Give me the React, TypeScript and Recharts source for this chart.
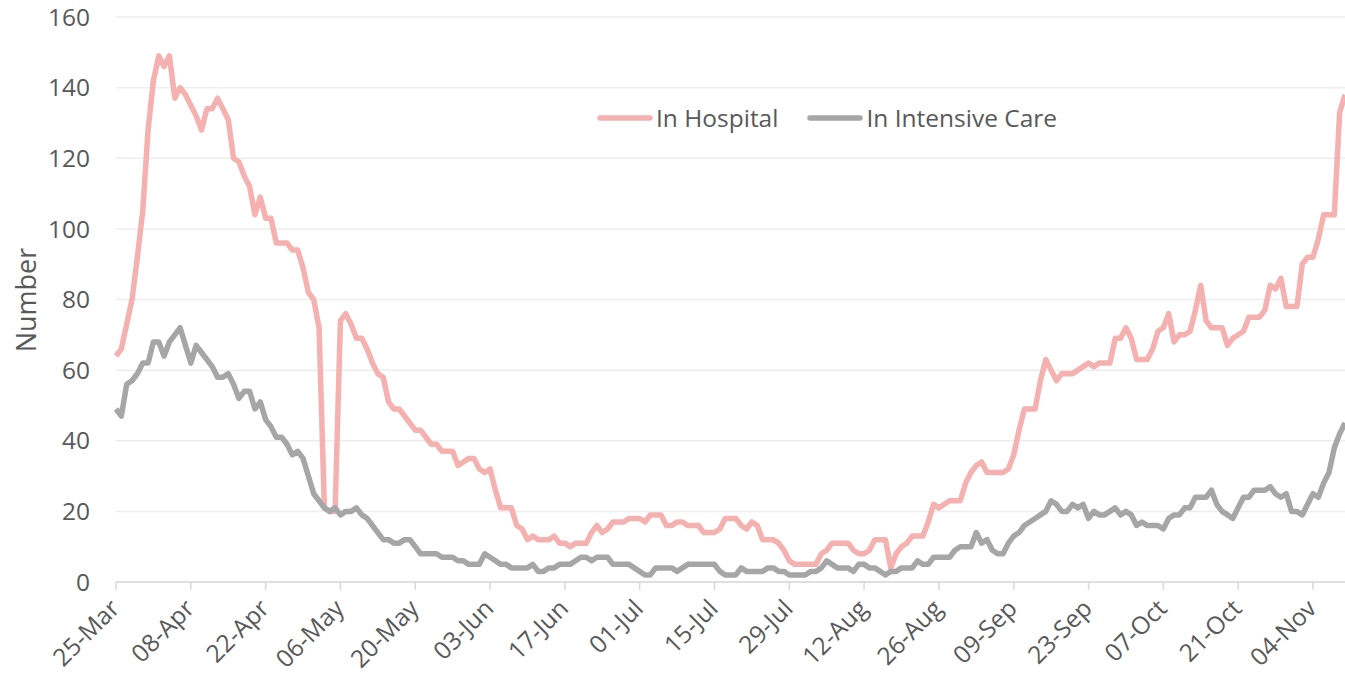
import { LineChart, Line, XAxis, YAxis, CartesianGrid, Legend } from 'recharts';

const MONTHS = ['Jan', 'Feb', 'Mar', 'Apr', 'May', 'Jun', 'Jul', 'Aug', 'Sep', 'Oct', 'Nov', 'Dec'];

// daily counts from 25-Mar to 10-Nov
const inHospital = [
  64, 66, 73, 80, 92, 105, 128, 142, 149, 146,
  149, 137, 140, 138, 135, 132, 128, 134, 134, 137,
  134, 131, 120, 119, 115, 112, 104, 109, 103, 103,
  96, 96, 96, 94, 94, 89, 82, 80, 72, 21,
  20, 20, 74, 76, 73, 69, 69, 66, 62, 59,
  58, 51, 49, 49, 47, 45, 43, 43, 41, 39,
  39, 37, 37, 37, 33, 34, 35, 35, 32, 31,
  32, 26, 21, 21, 21, 16, 15, 12, 13, 12,
  12, 12, 13, 11, 11, 10, 11, 11, 11, 14,
  16, 14, 15, 17, 17, 17, 18, 18, 18, 17,
  19, 19, 19, 16, 16, 17, 17, 16, 16, 16,
  14, 14, 14, 15, 18, 18, 18, 16, 15, 17,
  16, 12, 12, 12, 11, 9, 6, 5, 5, 5,
  5, 5, 8, 9, 11, 11, 11, 11, 9, 8,
  8, 9, 12, 12, 12, 4, 8, 10, 11, 13,
  13, 13, 17, 22, 21, 22, 23, 23, 23, 28,
  31, 33, 34, 31, 31, 31, 31, 32, 36, 43,
  49, 49, 49, 57, 63, 60, 57, 59, 59, 59,
  60, 61, 62, 61, 62, 62, 62, 69, 69, 72,
  69, 63, 63, 63, 66, 71, 72, 76, 68, 70,
  70, 71, 77, 84, 74, 72, 72, 72, 67, 69,
  70, 71, 75, 75, 75, 77, 84, 83, 86, 78,
  78, 78, 90, 92, 92, 97, 104, 104, 104, 133,
  138,
];

const inIntensiveCare = [
  49, 47, 56, 57, 59, 62, 62, 68, 68, 64,
  68, 70, 72, 67, 62, 67, 65, 63, 61, 58,
  58, 59, 56, 52, 54, 54, 49, 51, 46, 44,
  41, 41, 39, 36, 37, 35, 30, 25, 23, 21,
  20, 21, 19, 20, 20, 21, 19, 18, 16, 14,
  12, 12, 11, 11, 12, 12, 10, 8, 8, 8,
  8, 7, 7, 7, 6, 6, 5, 5, 5, 8,
  7, 6, 5, 5, 4, 4, 4, 4, 5, 3,
  3, 4, 4, 5, 5, 5, 6, 7, 7, 6,
  7, 7, 7, 5, 5, 5, 5, 4, 3, 2,
  2, 4, 4, 4, 4, 3, 4, 5, 5, 5,
  5, 5, 5, 3, 2, 2, 2, 4, 3, 3,
  3, 3, 4, 4, 3, 3, 2, 2, 2, 2,
  3, 3, 4, 6, 5, 4, 4, 4, 3, 5,
  5, 4, 4, 3, 2, 3, 3, 4, 4, 4,
  6, 5, 5, 7, 7, 7, 7, 9, 10, 10,
  10, 14, 11, 12, 9, 8, 8, 11, 13, 14,
  16, 17, 18, 19, 20, 23, 22, 20, 20, 22,
  21, 22, 18, 20, 19, 19, 20, 21, 19, 20,
  19, 16, 17, 16, 16, 16, 15, 18, 19, 19,
  21, 21, 24, 24, 24, 26, 22, 20, 19, 18,
  21, 24, 24, 26, 26, 26, 27, 25, 24, 25,
  20, 20, 19, 22, 25, 24, 28, 31, 38, 42,
  45,
];

const xTicks = [
  '25-Mar', '08-Apr', '22-Apr', '06-May', '20-May', '03-Jun', '17-Jun', '01-Jul', '15-Jul',
  '29-Jul', '12-Aug', '26-Aug', '09-Sep', '23-Sep', '07-Oct', '21-Oct', '04-Nov',
];
const yTicks = [0, 20, 40, 60, 80, 100, 120, 140, 160];

const dayLabel = (i: number) => {
  const d = new Date(2020, 2, 25 + i);
  return `${String(d.getDate()).padStart(2, '0')}-${MONTHS[d.getMonth()]}`;
};

const data = inHospital.map((v, i) => ({
  day: dayLabel(i),
  hospital: v,
  icu: inIntensiveCare[i],
}));

const TEXT = '#595959';
const PINK = '#F4B1AF';
const GREY = '#A6A6A6';
const FONT = 24.5;

const DateTick = ({ x, y, payload }: any) => (
  <g transform={`translate(${x + 5},${y + 18})`}>
    <text transform="rotate(-45)" textAnchor="end" fill={TEXT} fontSize={FONT}>
      {payload.value}
    </text>
  </g>
);

const LegendContent = ({ payload }: any) => (
  <div style={{ display: 'flex', alignItems: 'center', fontSize: FONT, color: TEXT, whiteSpace: 'nowrap' }}>
    {(payload || []).map((p: any, i: number) => (
      <div key={i} style={{ display: 'flex', alignItems: 'center', marginRight: 29 }}>
        <svg width={56} height={10} style={{ display: 'block' }}>
          <line x1={3} y1={5} x2={53} y2={5} stroke={p.color} strokeWidth={5.5} strokeLinecap="round" />
        </svg>
        <span style={{ marginLeft: 3 }}>{p.value}</span>
      </div>
    ))}
  </div>
);

export default function App() {
  return (
    <div style={{ position: 'absolute', left: 0, top: 0, fontFamily: "'Open Sans', sans-serif" }}>
      <LineChart width={1345} height={675} data={data} margin={{ top: 17, right: 0, left: 0, bottom: 0 }}>
        <CartesianGrid vertical={false} stroke="#EDEDED" strokeWidth={1.5} />
        <XAxis
          dataKey="day"
          ticks={xTicks}
          interval={0}
          height={93}
          tick={<DateTick />}
          tickSize={8}
          tickMargin={2}
          axisLine={{ stroke: '#D9D9D9', strokeWidth: 1.5 }}
          tickLine={{ stroke: '#D9D9D9', strokeWidth: 1.5 }}
        />
        <YAxis
          domain={[0, 160]}
          ticks={yTicks}
          width={116}
          axisLine={false}
          tickLine={false}
          tickSize={6}
          tickMargin={20}
          tick={{ fill: TEXT, fontSize: FONT }}
          label={{
            content: () => (
              <text x={25} y={300} transform="rotate(-90, 25, 300)" textAnchor="middle" dominantBaseline="central" fill={TEXT} fontSize={27}>
                Number
              </text>
            ),
          }}
        />
        <Legend
          layout="horizontal"
          verticalAlign="middle"
          align="center"
          content={<LegendContent />}
          wrapperStyle={{ position: 'absolute', top: 101, left: 597, width: 'auto' }}
        />
        <Line
          type="linear"
          dataKey="hospital"
          name="In Hospital"
          stroke={PINK}
          strokeWidth={5.5}
          strokeLinejoin="round"
          dot={false}
          activeDot={false}
          isAnimationActive={false}
        />
        <Line
          type="linear"
          dataKey="icu"
          name="In Intensive Care"
          stroke={GREY}
          strokeWidth={5.5}
          strokeLinejoin="round"
          dot={false}
          activeDot={false}
          isAnimationActive={false}
        />
      </LineChart>
    </div>
  );
}
